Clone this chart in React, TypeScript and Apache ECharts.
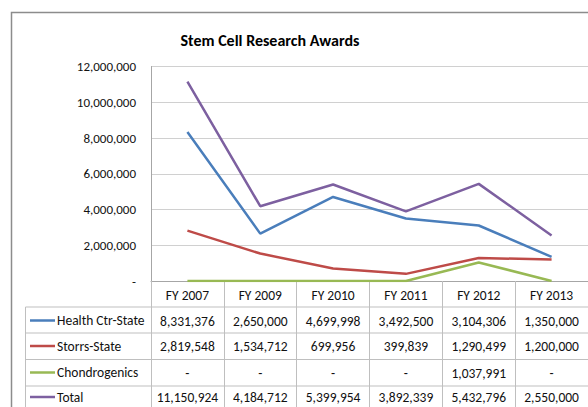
import React, { useEffect, useRef } from "react";
import * as echarts from "echarts";

const title = "Stem Cell Research Awards";
const categories = ["FY 2007", "FY 2009", "FY 2010", "FY 2011", "FY 2012", "FY 2013"];
const seriesNames = ["Health Ctr-State", "Storrs-State", "Chondrogenics", "Total"];
const healthCtrState = [8331376, 2650000, 4699998, 3492500, 3104306, 1350000];
const storrsState = [2819548, 1534712, 699956, 399839, 1290499, 1200000];
const chondrogenics = [0, 0, 0, 0, 1037991, 0];
const total = [11150924, 4184712, 5399954, 3892339, 5432796, 2550000];
const yTicks = [0, 2000000, 4000000, 6000000, 8000000, 10000000, 12000000];

const seriesValues = [healthCtrState, storrsState, chondrogenics, total];
const colors = ["#4A7EBB", "#BE4B48", "#98B954", "#7D60A0"];

const FONT = "Carlito, 'Liberation Sans Narrow', 'Noto Sans', sans-serif";

function fmt(v: number): string {
  if (v === 0) return "-";
  return String(v).replace(/\B(?=(\d{3})+(?!\d))/g, ",");
}

export default function App() {
  const ref = useRef<HTMLDivElement>(null);
  useEffect(() => {
    if (!ref.current) return;
    const chart = echarts.init(ref.current, null, { renderer: "svg" });

    const gridLeft = 151;
    const gridTop = 66.5;
    const gridH = 214.5;
    const headerCenter = 294.5;
    const rowCenters = [320.5, 346, 372.5, 397];
    const rowLines = [307, 333, 359.5, 386];
    const tableLeft = 25.5;
    const lineColor = "#BFBFBF";
    const tableFont = 13.5;
    const textColor = "#111";

    const rowAxes = seriesValues.map((vals, i) => ({
      type: "category",
      data: categories,
      gridIndex: 0,
      position: "bottom",
      offset: rowCenters[i] - headerCenter,
      boundaryGap: true,
      axisLine: { show: false },
      axisTick: { show: false },
      axisLabel: {
        interval: 0,
        margin: 7,
        fontFamily: FONT,
        fontSize: tableFont,
        color: textColor,
        formatter: (_v: string, idx: number) => fmt(vals[idx]),
      },
    }));

    const graphic: any[] = [
      {
        type: "rect",
        shape: { x: 11.5, y: 12.5, width: 640, height: 460 },
        style: { fill: "none", stroke: "#8C8C8C", lineWidth: 1.5 },
        silent: true,
      },
      {
        type: "text",
        x: 270,
        y: 40,
        style: {
          text: title,
          fontFamily: FONT,
          fontSize: 16,
          fontWeight: "bold",
          fill: "#000",
          align: "center",
          verticalAlign: "middle",
        },
      },
      {
        type: "line",
        shape: { x1: tableLeft, y1: rowLines[0], x2: tableLeft, y2: 420 },
        style: { stroke: lineColor, lineWidth: 1 },
      },
    ];
    rowLines.forEach((y) => {
      graphic.push({
        type: "line",
        shape: { x1: tableLeft, y1: y, x2: 620, y2: y },
        style: { stroke: lineColor, lineWidth: 1 },
      });
    });
    seriesNames.forEach((name, i) => {
      graphic.push({
        type: "line",
        shape: { x1: 30, y1: rowCenters[i], x2: 55, y2: rowCenters[i] },
        style: { stroke: colors[i], lineWidth: 2.5 },
      });
      graphic.push({
        type: "text",
        x: 57,
        y: rowCenters[i],
        style: {
          text: name,
          fontFamily: FONT,
          fontSize: tableFont,
          fill: textColor,
          align: "left",
          verticalAlign: "middle",
        },
      });
    });

    chart.setOption({
      animation: false,
      backgroundColor: "#fff",
      grid: { left: gridLeft, top: gridTop, height: gridH, width: 448, containLabel: false },
      xAxis: [
        {
          type: "category",
          data: categories,
          boundaryGap: true,
          axisLine: { show: true, lineStyle: { color: "#A6A6A6", width: 1 } },
          axisTick: {
            show: true,
            length: 126,
            inside: false,
            lineStyle: { color: lineColor, width: 1 },
          },
          axisLabel: {
            interval: 0,
            margin: 7,
            fontFamily: FONT,
            fontSize: tableFont,
            color: textColor,
          },
        },
        ...rowAxes,
      ],
      yAxis: {
        type: "value",
        min: yTicks[0],
        max: yTicks[yTicks.length - 1],
        interval: yTicks[1] - yTicks[0],
        axisLine: { show: true, lineStyle: { color: "#A6A6A6", width: 1 } },
        axisTick: { show: false },
        splitLine: { show: true, lineStyle: { color: "#D0D0D0", width: 1 } },
        axisLabel: {
          margin: 15,
          fontFamily: FONT,
          fontSize: 13,
          color: textColor,
          formatter: (v: number) => fmt(v),
        },
      },
      series: seriesNames.map((name, i) => ({
        name,
        type: "line",
        data: seriesValues[i],
        xAxisIndex: 0,
        showSymbol: false,
        symbol: "none",
        lineStyle: { color: colors[i], width: 2.5 },
        itemStyle: { color: colors[i] },
        z: 3 + i,
      })),
      graphic,
    });
    return () => chart.dispose();
  }, []);
  return (
    <div
      ref={ref}
      style={{ position: "fixed", left: 0, top: 0, width: 588, height: 407, overflow: "hidden", background: "#fff" }}
    />
  );
}
